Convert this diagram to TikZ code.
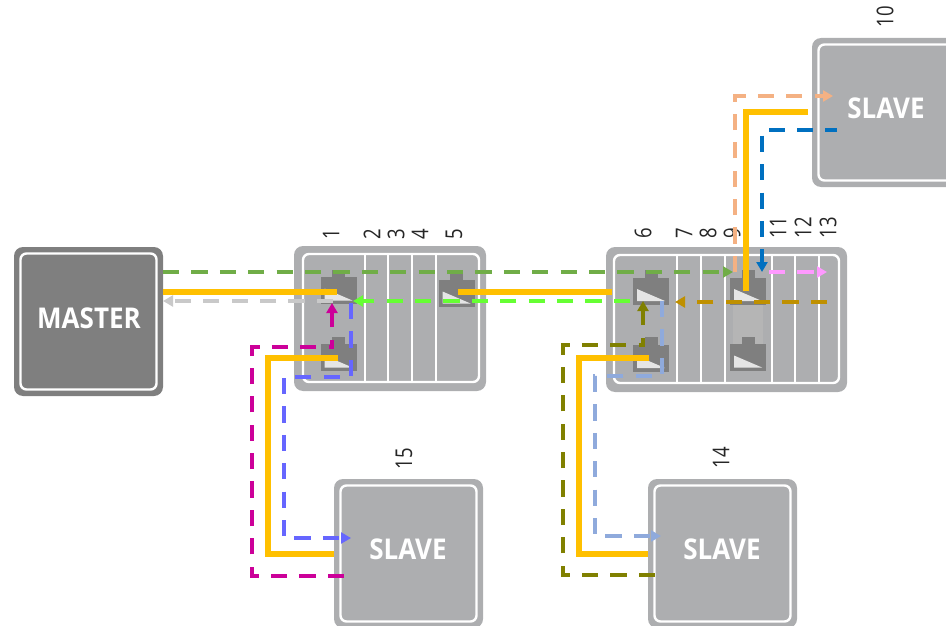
\documentclass[tikz,border=0pt]{standalone}
\usepackage{fontspec}
\setmainfont{Open Sans}
\usetikzlibrary{arrows.meta}
\definecolor{bodygray}{HTML}{ADAEB0}
\definecolor{darkgray}{HTML}{7F7F7F}
\definecolor{bandgray}{HTML}{B5B5B5}
\definecolor{wire}{HTML}{FFC000}
\definecolor{cgreen}{HTML}{70AD47}
\definecolor{cgrey}{HTML}{C9C9C9}
\definecolor{clime}{HTML}{66FF33}
\definecolor{cmag}{HTML}{CC0099}
\definecolor{cviolet}{HTML}{6666FF}
\definecolor{colive}{HTML}{808000}
\definecolor{csky}{HTML}{8FAADC}
\definecolor{cgold}{HTML}{BF9000}
\definecolor{cpink}{HTML}{FF99FF}
\definecolor{cpeach}{HTML}{F4B183}
\definecolor{cblue}{HTML}{0070C0}
\tikzset{
  x=1pt,y=-1pt,
  shell/.style={draw=none,fill=#1,rounded corners=9pt,inner sep=0pt,outer sep=0pt},
  inner shell/.style={draw=white,line width=2.4pt,fill=#1,rounded corners=6pt,inner sep=0pt,outer sep=0pt},
  divider/.style={draw=white,line width=2.4pt},
  orangewire/.style={draw=wire,line width=6pt,line join=miter},
  dashwire/.style={draw=#1,line width=3.2pt,dash pattern=on 16.2pt off 12.2pt,line join=miter},
  tipwire/.style={draw=#1,line width=3.2pt,dash pattern=on 16.2pt off 12.2pt,-{Triangle[length=10pt,width=11pt]}},
  solidtip/.style={draw=#1,line width=3.2pt,-{Triangle[length=10pt,width=11pt]}},
  num/.style={rotate=90,yscale=1.25,font=\fontsize{18.5}{18.5}\selectfont,text=black!85,inner sep=0pt},
  boxlabel/.style={yscale=1.1,font=\fontsize{26}{26}\selectfont\bfseries,text=white,inner sep=0pt},
  rjbody/.style={fill=darkgray,draw=none,minimum width=36pt,minimum height=27pt,inner sep=0pt,outer sep=0pt},
  rjtab/.style={fill=darkgray,draw=none,minimum width=13pt,minimum height=9pt,inner sep=0pt,outer sep=0pt},
  rj/.pic={
    \node[rjbody] (-body) at (0,0) {};
    \node[rjtab] (-tab) at (0,-16.5) {};
    \fill[white!90!black] (-14,-2) -- (14,10) -- (-14,10) -- cycle;
  }
}
\newcommand{\rrect}[7]{% name, x0,y0,x1,y1, style, extras
  \node[#6,minimum width=#4pt-#2pt,minimum height=#5pt-#3pt,anchor=north west] (#1) at (#2,#3) {#7};
}
\begin{document}
\begin{tikzpicture}
\useasboundingbox (0,0) rectangle (946,626);
\clip (0,0) rectangle (946,626);
% master and slaves
\rrect{master}{14}{247}{163}{396}{shell=darkgray}{}
\rrect{masterin}{20.5}{253.5}{156.5}{389.5}{inner shell=darkgray}{}
\node[boxlabel] (masterlab) at (89,318) {MASTER};
\rrect{slaveA}{812}{38}{966}{187}{shell=bodygray}{}
\rrect{slaveAin}{818.5}{44.5}{960}{180.5}{inner shell=bodygray}{}
\node[boxlabel] (slaveAlab) at (886,108) {SLAVE};
\rrect{slaveB}{334}{479}{483}{628}{shell=bodygray}{}
\rrect{slaveBin}{340.5}{485.5}{476.5}{621.5}{inner shell=bodygray}{}
\node[boxlabel] (slaveBlab) at (408,549) {SLAVE};
\rrect{slaveC}{648}{479}{797}{628}{shell=bodygray}{}
\rrect{slaveCin}{654.5}{485.5}{790.5}{621.5}{inner shell=bodygray}{}
\node[boxlabel] (slaveClab) at (722,549) {SLAVE};
% modules
\rrect{modA}{294}{246}{486}{391}{shell=bodygray}{}
\rrect{modAin}{303}{254}{479}{382}{inner shell=bodygray}{}
\foreach \x in {365,388,412,436} \draw[divider] (\x,254) -- (\x,382);
\rrect{modB}{606}{247}{847}{392}{shell=bodygray}{}
\rrect{modBin}{614}{255}{839}{383}{inner shell=bodygray}{}
\foreach \x in {677,701,725,772,795,819} \draw[divider] (\x,255) -- (\x,383);
\fill[bandgray] (733,305) rectangle (763,345);
% ports
\pic (pA) at (338.5,290.5) {rj};
\pic (pB) at (338.5,357.5) {rj};
\pic (pC) at (456.5,293.5) {rj};
\pic (pD) at (651,291) {rj};
\pic (pE) at (651,358) {rj};
\pic (pF) at (748,291) {rj};
\pic (pG) at (748,357.5) {rj};
% numbers
\node[num] (n1) at (331,234) {1};
\node[num] (n2) at (372,234) {2};
\node[num] (n3) at (396,234) {3};
\node[num] (n4) at (420,234) {4};
\node[num] (n5) at (454,234) {5};
\node[num] (n6) at (643,233) {6};
\node[num] (n7) at (684,233) {7};
\node[num] (n8) at (708,233) {8};
\node[num] (n9) at (732,233) {9};
\node[num] (n11) at (778,228) {11};
\node[num] (n12) at (803,228) {12};
\node[num] (n13) at (828,228) {13};
\node[num] (n10) at (885,17) {10};
\node[num] (n15) at (404,459) {15};
\node[num] (n14) at (721,458) {14};
% way points
\coordinate (gA) at (master.east |- 0,272);
\coordinate (gB) at (733,272);
\coordinate (grA) at (333,301);
\coordinate (grB) at (163,301);
\coordinate (lA) at (630,301);
\coordinate (lB) at (353,301);
\coordinate (mA) at (344,576);
\coordinate (mB) at (252,576);
\coordinate (mC) at (252,347);
\coordinate (mD) at (332,347);
\coordinate (mE) at (332,327);
\coordinate (mF) at (332,303);
\coordinate (vA) at (351,303);
\coordinate (vB) at (351,377);
\coordinate (vC) at (284,377);
\coordinate (vD) at (284,538);
\coordinate (vE) at (351,538);
\coordinate (oA) at (655,575);
\coordinate (oB) at (563,575);
\coordinate (oC) at (563,345);
\coordinate (oD) at (643,345);
\coordinate (oE) at (643,325);
\coordinate (oF) at (643,301);
\coordinate (sA) at (662,301);
\coordinate (sB) at (662,376);
\coordinate (sC) at (595,376);
\coordinate (sD) at (595,536);
\coordinate (sE) at (661,536);
\coordinate (dA) at (827,302);
\coordinate (dB) at (675,302);
\coordinate (kA) at (769,272);
\coordinate (kB) at (827,272);
\coordinate (pA1) at (735,272);
\coordinate (pA2) at (735,96);
\coordinate (pA3) at (833,96);
\coordinate (bA) at (837,130);
\coordinate (bB) at (762,130);
\coordinate (bC) at (762,272);
% dashed signal lines
\draw[tipwire=cgrey] (grA) -- (grB);
\draw[tipwire=clime] (lA) -- (lB);
\draw[dashwire=cmag] (mA) -- (mB) -- (mC) -- (mD) -- (332,340);
\draw[solidtip=cmag] (mE) -- (mF);
\draw[tipwire=cviolet] (vA) -- (vB) -- (vC) -- (vD) -- (vE);
\draw[dashwire=colive] (oA) -- (oB) -- (oC) -- (oD) -- (643,338);
\draw[solidtip=colive] (oE) -- (oF);
\draw[tipwire=csky] (sA) -- (sB) -- (sC) -- (sD) -- (sE);
\draw[tipwire=cgold] (dA) -- (dB);
\draw[tipwire=cpink] (kA) -- (kB);
\draw[tipwire=cpeach] (pA1) -- (pA2) -- (pA3);
\draw[tipwire=cblue,dash phase=4.5pt] (bA) -- (bB) -- (bC);
\draw[tipwire=cgreen] (gA) -- (gB);
% power wires
\draw[orangewire] (master.east |- 0,292) -- (337,292);
\draw[orangewire] (458,292) -- (612,292);
\draw[orangewire] (338,358) -- (268,358) -- (268,554) -- (slaveB.west |- 0,554);
\draw[orangewire] (649,358) -- (579,358) -- (579,554) -- (slaveC.west |- 0,554);
\draw[orangewire] (808,112) -- (746,112) -- (746,291);
\end{tikzpicture}
\end{document}
